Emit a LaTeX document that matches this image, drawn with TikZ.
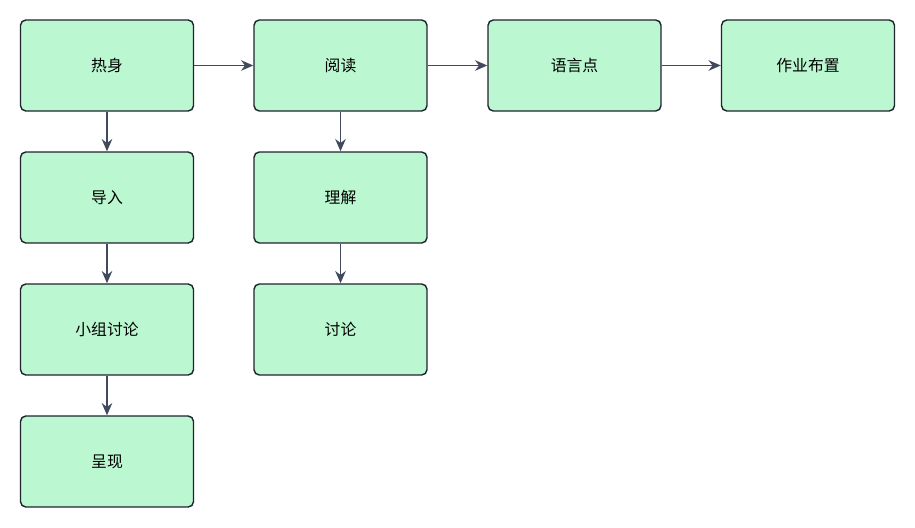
\documentclass[tikz,border=0pt]{standalone}
\usepackage{fontspec}
\setmainfont{Noto Sans CJK SC}
\usetikzlibrary{arrows.meta, positioning}

\begin{document}
\begin{tikzpicture}[x=0.02cm, y=-0.02cm, >={Stealth[length=7pt,width=6pt]}]

\definecolor{boxgreen}{RGB}{187, 247, 208}
\definecolor{boxline}{RGB}{30, 35, 45}
\definecolor{arrowgray}{RGB}{64, 74, 92}

\useasboundingbox (0,0) rectangle (915,527);

\tikzset{
    stage/.style={
        draw=boxline, thick, fill=boxgreen, rounded corners=3pt,
        minimum width=3.46cm, minimum height=1.82cm,
        font=\small, align=center
    },
    flow/.style={
        draw=arrowgray, thick, ->
    }
}

% --- main row ---
\node[stage] (warm) at (107, 65.5) {热身};
\node[stage] (read) at (340.5, 65.5) {阅读};
\node[stage] (lang) at (574.5, 65.5) {语言点};
\node[stage] (home) at (808, 65.5) {作业布置};

% --- first column ---
\node[stage] (lead) at (107, 197.5) {导入};
\node[stage] (group) at (107, 329.5) {小组讨论};
\node[stage] (show) at (107, 461.5) {呈现};

% --- second column ---
\node[stage] (know) at (340.5, 197.5) {理解};
\node[stage] (talk) at (340.5, 329.5) {讨论};

% connectors
\draw[flow] (warm) -- (read);
\draw[flow] (read) -- (lang);
\draw[flow] (lang) -- (home);
\draw[flow] (warm) -- (lead);
\draw[flow] (lead) -- (group);
\draw[flow] (group) -- (show);
\draw[flow] (read) -- (know);
\draw[flow] (know) -- (talk);

\end{tikzpicture}
\end{document}
